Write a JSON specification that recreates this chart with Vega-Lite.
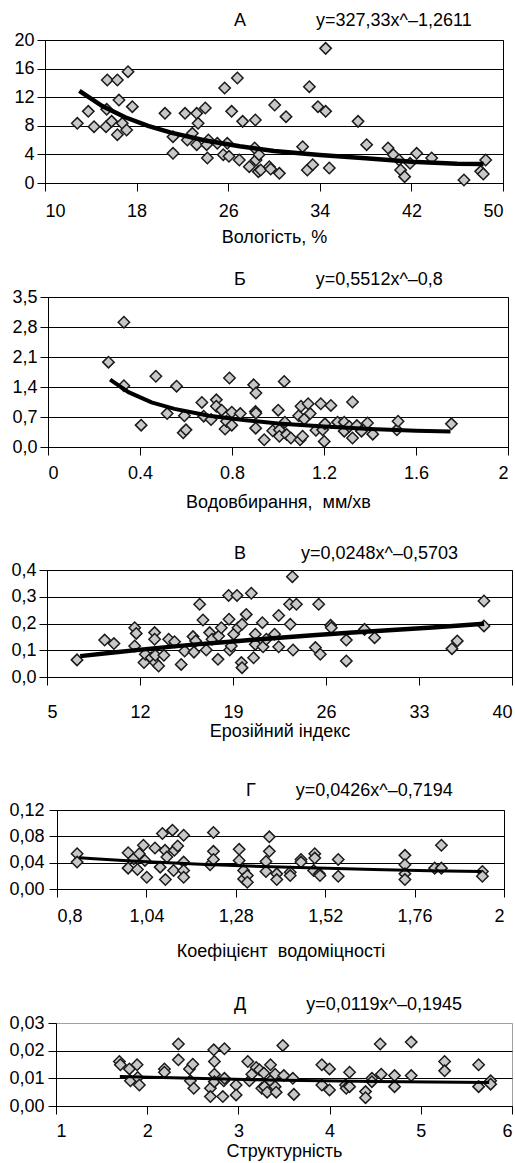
{
  "$schema": "https://vega.github.io/schema/vega-lite/v6.json",
  "padding": {"left": 5, "top": 11, "right": 0, "bottom": 5},
  "background": "white",
  "config": {
    "font": "Liberation Sans",
    "view": {"stroke": "black", "strokeWidth": 1},
    "axis": {"labelFont": "Liberation Sans", "labelFontSize": 18, "labelColor": "black", "titleFont": "Liberation Sans", "titleFontSize": 18, "titleFontWeight": "normal", "titleColor": "black", "domainColor": "black", "domainWidth": 1, "tickColor": "black", "tickSize": 8, "tickWidth": 1, "gridColor": "black", "gridWidth": 1, "gridOpacity": 1, "labelOverlap": false},
    "axisX": {"grid": false},
    "axisY": {"grid": true, "title": null, "minExtent": 0},
    "title": {"font": "Liberation Sans", "fontSize": 18, "fontWeight": "normal", "color": "black", "anchor": "start", "frame": "group"}
  },
  "datasets": {
    "spacer": [{"s": 0}],
    "A_pts": [{"x":12.82,"y":8.35},{"x":13.78,"y":10.02},{"x":14.28,"y":7.88},{"x":15.33,"y":7.88},{"x":15.44,"y":14.41},{"x":15.39,"y":10.3},{"x":15.82,"y":8.62},{"x":16.32,"y":14.41},{"x":16.32,"y":6.76},{"x":16.46,"y":11.6},{"x":16.75,"y":8.35},{"x":17.13,"y":7.41},{"x":17.25,"y":15.57},{"x":17.63,"y":10.68},{"x":20.48,"y":9.74},{"x":21.18,"y":6.48},{"x":21.18,"y":4.15},{"x":22.23,"y":9.74},{"x":22.43,"y":6.01},{"x":22.87,"y":6.95},{"x":23.25,"y":9.74},{"x":23.37,"y":8.35},{"x":23.25,"y":5.36},{"x":24.0,"y":10.49},{"x":24.18,"y":3.5},{"x":24.27,"y":6.01},{"x":24.12,"y":5.36},{"x":25.05,"y":5.55},{"x":25.69,"y":13.29},{"x":25.57,"y":3.96},{"x":25.92,"y":5.55},{"x":26.07,"y":3.73},{"x":26.3,"y":10.02},{"x":26.8,"y":14.69},{"x":26.97,"y":3.22},{"x":27.26,"y":8.62},{"x":27.84,"y":2.28},{"x":28.37,"y":8.81},{"x":28.31,"y":4.9},{"x":28.43,"y":3.22},{"x":28.69,"y":3.96},{"x":28.63,"y":1.59},{"x":28.84,"y":1.82},{"x":29.59,"y":2.28},{"x":29.71,"y":1.96},{"x":30.06,"y":10.91},{"x":30.47,"y":1.35},{"x":31.05,"y":9.28},{"x":32.5,"y":5.08},{"x":32.91,"y":1.82},{"x":33.09,"y":13.47},{"x":33.38,"y":2.56},{"x":33.84,"y":10.68},{"x":34.51,"y":10.02},{"x":34.51,"y":18.83},{"x":34.83,"y":2.1},{"x":37.34,"y":8.62},{"x":38.09,"y":5.36},{"x":39.96,"y":4.9},{"x":40.42,"y":3.96},{"x":40.92,"y":3.22},{"x":41.06,"y":1.82},{"x":41.41,"y":0.89},{"x":41.88,"y":2.75},{"x":42.46,"y":4.15},{"x":43.77,"y":3.5},{"x":46.59,"y":0.42},{"x":48.05,"y":1.63},{"x":48.28,"y":1.26},{"x":48.49,"y":3.22}],
    "A_fit": [{"x":13,"y":12.89},{"x":15,"y":10.76},{"x":17,"y":9.19},{"x":19,"y":7.99},{"x":21,"y":7.04},{"x":24,"y":5.95},{"x":27,"y":5.13},{"x":30,"y":4.49},{"x":34,"y":3.9},{"x":38,"y":3.45},{"x":42,"y":2.98},{"x":46,"y":2.7},{"x":48.3,"y":2.65}],
    "B_pts": [{"x":0.263,"y":1.98},{"x":0.33,"y":2.91},{"x":0.33,"y":1.43},{"x":0.405,"y":0.51},{"x":0.469,"y":1.65},{"x":0.518,"y":0.78},{"x":0.559,"y":1.42},{"x":0.593,"y":0.73},{"x":0.588,"y":0.33},{"x":0.6,"y":0.4},{"x":0.669,"y":1.04},{"x":0.677,"y":0.72},{"x":0.709,"y":0.64},{"x":0.732,"y":1.1},{"x":0.732,"y":0.95},{"x":0.755,"y":0.86},{"x":0.77,"y":0.42},{"x":0.776,"y":0.6},{"x":0.789,"y":1.61},{"x":0.799,"y":0.81},{"x":0.799,"y":0.51},{"x":0.836,"y":0.78},{"x":0.894,"y":1.45},{"x":0.904,"y":1.26},{"x":0.902,"y":0.83},{"x":0.904,"y":0.79},{"x":0.903,"y":0.44},{"x":0.94,"y":0.17},{"x":0.977,"y":0.38},{"x":1.001,"y":0.86},{"x":1.006,"y":0.4},{"x":1.006,"y":0.25},{"x":1.027,"y":1.53},{"x":1.03,"y":0.58},{"x":1.038,"y":0.29},{"x":1.056,"y":0.21},{"x":1.09,"y":0.73},{"x":1.1,"y":0.95},{"x":1.096,"y":0.17},{"x":1.107,"y":0.25},{"x":1.114,"y":0.65},{"x":1.131,"y":1.01},{"x":1.14,"y":0.78},{"x":1.165,"y":0.39},{"x":1.186,"y":1.01},{"x":1.194,"y":0.4},{"x":1.201,"y":0.13},{"x":1.204,"y":0.54},{"x":1.23,"y":0.97},{"x":1.259,"y":0.58},{"x":1.288,"y":0.58},{"x":1.288,"y":0.37},{"x":1.31,"y":0.48},{"x":1.324,"y":0.21},{"x":1.324,"y":1.05},{"x":1.343,"y":0.5},{"x":1.363,"y":0.37},{"x":1.389,"y":0.56},{"x":1.412,"y":0.3},{"x":1.517,"y":0.4},{"x":1.522,"y":0.6},{"x":1.754,"y":0.54}],
    "B_fit": [{"x":0.27,"y":1.57},{"x":0.35,"y":1.28},{"x":0.45,"y":1.04},{"x":0.55,"y":0.89},{"x":0.7,"y":0.73},{"x":0.85,"y":0.63},{"x":1.0,"y":0.55},{"x":1.2,"y":0.48},{"x":1.4,"y":0.42},{"x":1.6,"y":0.38},{"x":1.75,"y":0.36}],
    "C_pts": [{"x":7.26,"y":0.064},{"x":9.34,"y":0.138},{"x":10.04,"y":0.125},{"x":11.6,"y":0.184},{"x":11.72,"y":0.163},{"x":11.6,"y":0.116},{"x":12.3,"y":0.054},{"x":12.4,"y":0.085},{"x":12.85,"y":0.072},{"x":13.1,"y":0.166},{"x":13.1,"y":0.141},{"x":13.15,"y":0.054},{"x":13.15,"y":0.081},{"x":13.4,"y":0.041},{"x":13.8,"y":0.081},{"x":14.16,"y":0.141},{"x":14.6,"y":0.132},{"x":15.1,"y":0.047},{"x":15.36,"y":0.097},{"x":15.99,"y":0.151},{"x":16.06,"y":0.093},{"x":16.19,"y":0.135},{"x":16.49,"y":0.272},{"x":16.74,"y":0.213},{"x":16.99,"y":0.101},{"x":17.24,"y":0.166},{"x":17.42,"y":0.141},{"x":17.87,"y":0.066},{"x":17.92,"y":0.153},{"x":18.12,"y":0.184},{"x":18.67,"y":0.305},{"x":18.7,"y":0.216},{"x":18.75,"y":0.101},{"x":18.87,"y":0.116},{"x":19.05,"y":0.16},{"x":19.3,"y":0.305},{"x":19.38,"y":0.184},{"x":19.63,"y":0.054},{"x":19.68,"y":0.035},{"x":19.68,"y":0.197},{"x":20.0,"y":0.234},{"x":20.38,"y":0.313},{"x":20.55,"y":0.072},{"x":20.68,"y":0.16},{"x":20.68,"y":0.122},{"x":21.21,"y":0.203},{"x":21.26,"y":0.113},{"x":21.51,"y":0.141},{"x":22.13,"y":0.16},{"x":22.44,"y":0.23},{"x":22.44,"y":0.113},{"x":23.26,"y":0.272},{"x":23.31,"y":0.197},{"x":23.47,"y":0.375},{"x":23.52,"y":0.101},{"x":23.77,"y":0.272},{"x":25.2,"y":0.11},{"x":25.45,"y":0.272},{"x":25.57,"y":0.085},{"x":26.35,"y":0.193},{"x":26.4,"y":0.184},{"x":27.53,"y":0.138},{"x":27.53,"y":0.06},{"x":28.9,"y":0.178},{"x":29.66,"y":0.147},{"x":35.48,"y":0.106},{"x":35.88,"y":0.135},{"x":37.89,"y":0.284},{"x":37.89,"y":0.191}],
    "C_fit": [{"x":7.5,"y":0.078},{"x":10,"y":0.092},{"x":13,"y":0.107},{"x":16,"y":0.121},{"x":19,"y":0.133},{"x":22,"y":0.145},{"x":25,"y":0.156},{"x":28,"y":0.166},{"x":31,"y":0.176},{"x":34,"y":0.185},{"x":37.9,"y":0.199}],
    "D_pts": [{"x":0.854,"y":0.0536},{"x":0.854,"y":0.0409},{"x":0.991,"y":0.0551},{"x":0.991,"y":0.0317},{"x":1.006,"y":0.046},{"x":1.016,"y":0.0296},{"x":1.021,"y":0.0536},{"x":1.032,"y":0.0664},{"x":1.036,"y":0.0434},{"x":1.041,"y":0.0179},{"x":1.063,"y":0.0623},{"x":1.077,"y":0.0332},{"x":1.083,"y":0.0843},{"x":1.09,"y":0.0587},{"x":1.091,"y":0.0143},{"x":1.095,"y":0.0485},{"x":1.11,"y":0.0894},{"x":1.113,"y":0.0281},{"x":1.115,"y":0.0587},{"x":1.124,"y":0.0654},{"x":1.14,"y":0.0817},{"x":1.14,"y":0.0409},{"x":1.14,"y":0.0281},{"x":1.14,"y":0.0179},{"x":1.211,"y":0.0368},{"x":1.22,"y":0.0858},{"x":1.22,"y":0.0572},{"x":1.22,"y":0.0449},{"x":1.289,"y":0.0603},{"x":1.289,"y":0.0434},{"x":1.301,"y":0.0281},{"x":1.301,"y":0.0153},{"x":1.311,"y":0.0204},{"x":1.311,"y":0.0102},{"x":1.361,"y":0.0419},{"x":1.361,"y":0.0266},{"x":1.37,"y":0.0792},{"x":1.37,"y":0.0572},{"x":1.39,"y":0.023},{"x":1.39,"y":0.0143},{"x":1.426,"y":0.0255},{"x":1.426,"y":0.0204},{"x":1.455,"y":0.0449},{"x":1.455,"y":0.0409},{"x":1.489,"y":0.0281},{"x":1.492,"y":0.0536},{"x":1.492,"y":0.047},{"x":1.504,"y":0.023},{"x":1.506,"y":0.0204},{"x":1.555,"y":0.0449},{"x":1.555,"y":0.0194},{"x":1.734,"y":0.0511},{"x":1.734,"y":0.0368},{"x":1.734,"y":0.023},{"x":1.734,"y":0.0143},{"x":1.814,"y":0.0317},{"x":1.832,"y":0.0664},{"x":1.832,"y":0.0317},{"x":1.942,"y":0.0266},{"x":1.942,"y":0.0194}],
    "D_fit": [{"x":0.86,"y":0.0475},{"x":0.9,"y":0.046},{"x":1.0,"y":0.0426},{"x":1.1,"y":0.0398},{"x":1.2,"y":0.0374},{"x":1.35,"y":0.0343},{"x":1.5,"y":0.0318},{"x":1.65,"y":0.0297},{"x":1.8,"y":0.0279},{"x":1.94,"y":0.0264}],
    "E_pts": [{"x":1.695,"y":0.0161},{"x":1.706,"y":0.0149},{"x":1.805,"y":0.0134},{"x":1.816,"y":0.0091},{"x":1.889,"y":0.0149},{"x":1.896,"y":0.0103},{"x":1.914,"y":0.0076},{"x":2.189,"y":0.0134},{"x":2.189,"y":0.0122},{"x":2.342,"y":0.0224},{"x":2.342,"y":0.0167},{"x":2.463,"y":0.0134},{"x":2.5,"y":0.0151},{"x":2.474,"y":0.0091},{"x":2.511,"y":0.0064},{"x":2.693,"y":0.0064},{"x":2.693,"y":0.0034},{"x":2.73,"y":0.0203},{"x":2.737,"y":0.0161},{"x":2.737,"y":0.0115},{"x":2.737,"y":0.0088},{"x":2.829,"y":0.0034},{"x":2.84,"y":0.0091},{"x":2.847,"y":0.0207},{"x":2.847,"y":0.01},{"x":2.975,"y":0.0076},{"x":2.975,"y":0.004},{"x":3.103,"y":0.0161},{"x":3.121,"y":0.0091},{"x":3.147,"y":0.0115},{"x":3.195,"y":0.0139},{"x":3.231,"y":0.0131},{"x":3.257,"y":0.0064},{"x":3.279,"y":0.0119},{"x":3.286,"y":0.007},{"x":3.315,"y":0.005},{"x":3.352,"y":0.0149},{"x":3.352,"y":0.0091},{"x":3.403,"y":0.0115},{"x":3.403,"y":0.007},{"x":3.414,"y":0.005},{"x":3.487,"y":0.0219},{"x":3.498,"y":0.011},{"x":3.597,"y":0.01},{"x":3.608,"y":0.0042},{"x":3.915,"y":0.0149},{"x":3.915,"y":0.0076},{"x":3.999,"y":0.0134},{"x":3.999,"y":0.0058},{"x":4.175,"y":0.0076},{"x":4.182,"y":0.0064},{"x":4.219,"y":0.0122},{"x":4.219,"y":0.007},{"x":4.394,"y":0.0052},{"x":4.394,"y":0.003},{"x":4.464,"y":0.01},{"x":4.464,"y":0.0088},{"x":4.555,"y":0.0224},{"x":4.566,"y":0.0115},{"x":4.712,"y":0.011},{"x":4.712,"y":0.007},{"x":4.895,"y":0.0231},{"x":4.895,"y":0.011},{"x":5.261,"y":0.0161},{"x":5.261,"y":0.0127},{"x":5.634,"y":0.0149},{"x":5.634,"y":0.007},{"x":5.766,"y":0.0091},{"x":5.766,"y":0.0079}],
    "E_fit": [{"x":1.7,"y":0.0107},{"x":2.5,"y":0.0100},{"x":3.5,"y":0.0093},{"x":4.5,"y":0.0089},{"x":5.75,"y":0.0085}]
  },
  "align": "none",
  "spacing": 33,
  "vconcat": [
    {
      "align": "none",
      "spacing": 40,
      "vconcat": [
        {
          "align": "none",
          "spacing": 31,
          "vconcat": [
            {
              "align": "none",
              "spacing": 22,
              "vconcat": [
                {
                  "align": "none", "spacing": 0,
                  "hconcat": [
                    {"width": 8, "height": 10, "view": {"stroke": null}, "data": {"name": "spacer"}, "mark": {"type": "rect", "opacity": 0}, "encoding": {}},
                    {
                      "width": 458, "height": 143,
                      "title": {"text": "А\u00a0\u00a0\u00a0\u00a0\u00a0\u00a0\u00a0\u00a0\u00a0\u00a0\u00a0\u00a0\u00a0\u00a0y=327,33x^–1,2611", "dx": 189, "offset": 0.7},
                      "encoding": {
                        "x": {"field": "x", "type": "quantitative", "scale": {"domain": [10, 50], "nice": false, "zero": false}, "axis": {"values": [10, 18, 26, 34, 42, 50], "title": "Вологість, %", "labelPadding": 11.7, "titlePadding": 8}},
                        "y": {"field": "y", "type": "quantitative", "scale": {"domain": [0, 20], "nice": false, "zero": false}, "axis": {"values": [0, 4, 8, 12, 16, 20], "labelPadding": 3}}
                      },
                      "layer": [
                        {"data": {"name": "A_pts"}, "mark": {"type": "point", "shape": "diamond", "filled": true, "fill": "#c8c8c8", "stroke": "#1a1a1a", "strokeWidth": 1.5, "size": 130, "opacity": 1}},
                        {"data": {"name": "A_fit"}, "mark": {"type": "line", "color": "black", "strokeWidth": 4.5}}
                      ]
                    }
                  ]
                },
                {
                  "align": "none", "spacing": 0,
                  "hconcat": [
                    {"width": 6, "height": 10, "view": {"stroke": null}, "data": {"name": "spacer"}, "mark": {"type": "rect", "opacity": 0}, "encoding": {}},
                    {
                      "width": 460, "height": 150,
                      "title": {"text": "Б\u00a0\u00a0\u00a0\u00a0\u00a0\u00a0\u00a0\u00a0\u00a0\u00a0\u00a0\u00a0\u00a0\u00a0y=0,5512x^–0,8", "dx": 186, "offset": -0.8},
                      "encoding": {
                        "x": {"field": "x", "type": "quantitative", "scale": {"domain": [0, 2], "nice": false, "zero": false}, "axis": {"values": [0, 0.4, 0.8, 1.2, 1.6, 2], "labelExpr": "format(datum.value, '~g')", "title": "Водовбирання,\u00a0 мм/хв", "labelPadding": 9.7, "titlePadding": 11}},
                        "y": {"field": "y", "type": "quantitative", "scale": {"domain": [0, 3.5], "nice": false, "zero": false}, "axis": {"values": [0, 0.7, 1.4, 2.1, 2.8, 3.5], "labelExpr": "replace(format(datum.value, '.1f'), '.', ',')", "labelPadding": 3}}
                      },
                      "layer": [
                        {"data": {"name": "B_pts"}, "mark": {"type": "point", "shape": "diamond", "filled": true, "fill": "#c8c8c8", "stroke": "#1a1a1a", "strokeWidth": 1.5, "size": 130, "opacity": 1}},
                        {"data": {"name": "B_fit"}, "mark": {"type": "line", "color": "black", "strokeWidth": 4}}
                      ]
                    }
                  ]
                }
              ]
            },
            {
              "align": "none", "spacing": 0,
              "hconcat": [
                {"width": 5, "height": 10, "view": {"stroke": null}, "data": {"name": "spacer"}, "mark": {"type": "rect", "opacity": 0}, "encoding": {}},
                {
                  "width": 465, "height": 107,
                  "title": {"text": "В\u00a0\u00a0\u00a0\u00a0\u00a0\u00a0\u00a0\u00a0\u00a0\u00a0\u00a0y=0,0248x^–0,5703", "dx": 187, "offset": -1.8},
                  "encoding": {
                    "x": {"field": "x", "type": "quantitative", "scale": {"domain": [5, 40], "nice": false, "zero": false}, "axis": {"values": [5, 12, 19, 26, 33, 40], "labelExpr": "format(datum.value, '~g')", "title": "Ерозійний індекс", "labelPadding": 18.7, "titlePadding": 0.3}},
                    "y": {"field": "y", "type": "quantitative", "scale": {"domain": [0, 0.4], "nice": false, "zero": false}, "axis": {"values": [0, 0.1, 0.2, 0.3, 0.4], "labelExpr": "replace(format(datum.value, '.1f'), '.', ',')", "labelPadding": 3}}
                  },
                  "layer": [
                    {"data": {"name": "C_pts"}, "mark": {"type": "point", "shape": "diamond", "filled": true, "fill": "#c8c8c8", "stroke": "#1a1a1a", "strokeWidth": 1.5, "size": 130, "opacity": 1}},
                    {"data": {"name": "C_fit"}, "mark": {"type": "line", "color": "black", "strokeWidth": 4.5}}
                  ]
                }
              ]
            }
          ]
        },
        {
          "align": "none", "spacing": 0,
          "hconcat": [
            {"width": 3, "height": 10, "view": {"stroke": null}, "data": {"name": "spacer"}, "mark": {"type": "rect", "opacity": 0}, "encoding": {}},
            {
              "width": 447, "height": 79,
              "title": {"text": "Г\u00a0\u00a0\u00a0\u00a0\u00a0\u00a0\u00a0\u00a0y=0,0426x^–0,7194", "dx": 189, "offset": 1.2},
              "encoding": {
                "x": {"field": "x", "type": "quantitative", "scale": {"domain": [0.8, 2], "nice": false, "zero": false}, "axis": {"values": [0.8, 1.04, 1.28, 1.52, 1.76, 2], "labelExpr": "replace(format(datum.value, '~g'), '.', ',')", "title": "Коефіцієнт\u00a0 водоміцності", "labelPadding": 10.7, "titlePadding": 17}},
                "y": {"field": "y", "type": "quantitative", "scale": {"domain": [0, 0.12], "nice": false, "zero": false}, "axis": {"values": [0, 0.04, 0.08, 0.12], "labelExpr": "replace(format(datum.value, '.2f'), '.', ',')", "labelPadding": 5}}
              },
              "layer": [
                {"data": {"name": "D_pts"}, "mark": {"type": "point", "shape": "diamond", "filled": true, "fill": "#c8c8c8", "stroke": "#1a1a1a", "strokeWidth": 1.5, "size": 130, "opacity": 1}},
                {"data": {"name": "D_fit"}, "mark": {"type": "line", "color": "black", "strokeWidth": 3}}
              ]
            }
          ]
        }
      ]
    },
    {
      "align": "none", "spacing": 0,
      "hconcat": [
        {"width": 3, "height": 10, "view": {"stroke": null}, "data": {"name": "spacer"}, "mark": {"type": "rect", "opacity": 0}, "encoding": {}},
        {
          "width": 456, "height": 83,
          "view": {"stroke": "#a0a0a0"},
          "title": {"text": "Д\u00a0\u00a0\u00a0\u00a0\u00a0\u00a0\u00a0\u00a0\u00a0\u00a0\u00a0\u00a0y=0,0119x^–0,1945", "dx": 178, "offset": 0.2},
          "encoding": {
            "x": {"field": "x", "type": "quantitative", "scale": {"domain": [1, 6], "nice": false, "zero": false}, "axis": {"values": [1, 2, 3, 4, 5, 6], "labelExpr": "format(datum.value, '~g')", "title": "Структурність", "labelPadding": 8.7, "titlePadding": 1.5}},
            "y": {"field": "y", "type": "quantitative", "scale": {"domain": [0, 0.03], "nice": false, "zero": false}, "axis": {"values": [0, 0.01, 0.02, 0.03], "labelExpr": "replace(format(datum.value, '.2f'), '.', ',')", "labelPadding": 4, "gridColor": {"condition": {"test": "datum.value > 0.025", "value": "#a0a0a0"}, "value": "black"}}}
          },
          "layer": [
            {"data": {"name": "E_pts"}, "mark": {"type": "point", "shape": "diamond", "filled": true, "fill": "#c8c8c8", "stroke": "#1a1a1a", "strokeWidth": 1.5, "size": 130, "opacity": 1}},
            {"data": {"name": "E_fit"}, "mark": {"type": "line", "color": "black", "strokeWidth": 3}}
          ]
        }
      ]
    }
  ]
}
